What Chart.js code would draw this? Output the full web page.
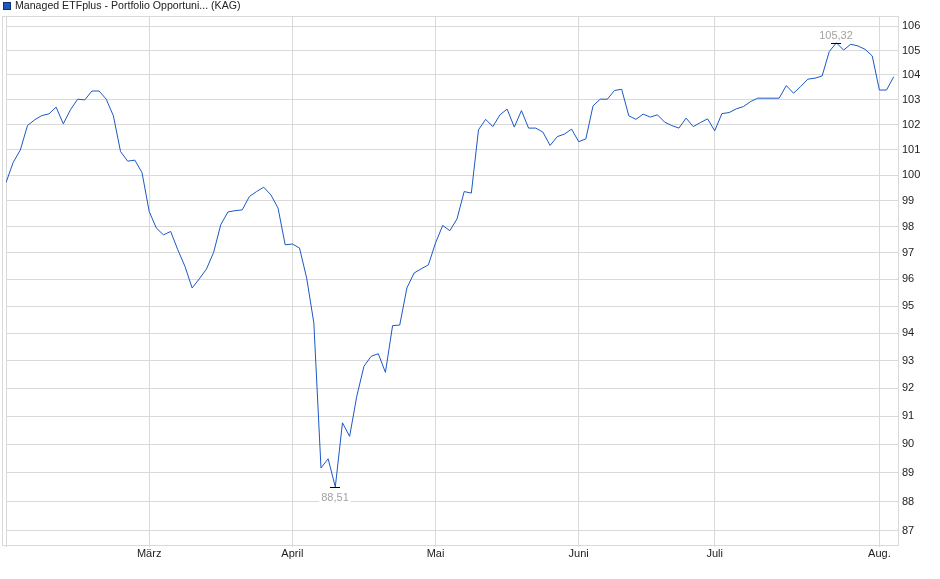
<!DOCTYPE html>
<html>
<head>
<meta charset="utf-8">
<script src="https://cdn.jsdelivr.net/npm/chart.js@4.4.1/dist/chart.umd.min.js"></script>
<style>
    html, body { margin: 0; padding: 0; background: #fff; }
    canvas { display: block; }
</style>
</head>
<body>
<canvas id="fundChart" width="940" height="579"></canvas>
<script>
// Fund name shown in the legend
const seriesName = 'Managed ETFplus - Portfolio Opportuni... (KAG)';

// Trading days (NAV dates)
const dates = [
    '2025-02-03', '2025-02-04', '2025-02-05', '2025-02-06', '2025-02-07',
    '2025-02-10', '2025-02-11', '2025-02-12', '2025-02-13', '2025-02-14',
    '2025-02-17', '2025-02-18', '2025-02-19', '2025-02-20', '2025-02-21',
    '2025-02-24', '2025-02-25', '2025-02-26', '2025-02-27', '2025-02-28',
    '2025-03-03', '2025-03-04', '2025-03-05', '2025-03-06', '2025-03-07',
    '2025-03-10', '2025-03-11', '2025-03-12', '2025-03-13', '2025-03-14',
    '2025-03-17', '2025-03-18', '2025-03-19', '2025-03-20', '2025-03-21',
    '2025-03-24', '2025-03-25', '2025-03-26', '2025-03-27', '2025-03-28',
    '2025-04-01', '2025-04-02', '2025-04-03', '2025-04-04', '2025-04-07',
    '2025-04-08', '2025-04-09', '2025-04-10', '2025-04-11', '2025-04-14',
    '2025-04-15', '2025-04-16', '2025-04-17', '2025-04-22', '2025-04-23',
    '2025-04-24', '2025-04-25', '2025-04-28', '2025-04-29', '2025-04-30',
    '2025-05-02', '2025-05-05', '2025-05-06', '2025-05-07', '2025-05-08',
    '2025-05-09', '2025-05-12', '2025-05-13', '2025-05-14', '2025-05-15',
    '2025-05-16', '2025-05-19', '2025-05-20', '2025-05-21', '2025-05-22',
    '2025-05-23', '2025-05-26', '2025-05-27', '2025-05-28', '2025-05-30',
    '2025-06-02', '2025-06-03', '2025-06-04', '2025-06-05', '2025-06-06',
    '2025-06-10', '2025-06-11', '2025-06-12', '2025-06-13', '2025-06-16',
    '2025-06-17', '2025-06-18', '2025-06-20', '2025-06-23', '2025-06-24',
    '2025-06-25', '2025-06-26', '2025-06-27', '2025-06-30',
    '2025-07-01', '2025-07-02', '2025-07-03', '2025-07-04', '2025-07-07',
    '2025-07-08', '2025-07-09', '2025-07-10', '2025-07-11', '2025-07-14',
    '2025-07-15', '2025-07-16', '2025-07-17', '2025-07-18', '2025-07-21',
    '2025-07-22', '2025-07-23', '2025-07-24', '2025-07-25', '2025-07-28',
    '2025-07-29', '2025-07-30', '2025-07-31',
    '2025-08-01', '2025-08-04', '2025-08-05'
];

// Fund price per trading day
const prices = [
    99.71, 100.50, 100.99, 101.96, 102.19, 102.36, 102.43, 102.70, 102.03, 102.59,
    103.02, 102.99, 103.35, 103.35, 103.02, 102.35, 100.93, 100.55, 100.59, 100.10,
    98.59, 97.95, 97.69, 97.82, 97.12, 96.49, 95.68, 96.02, 96.39, 97.02,
    98.08, 98.57, 98.62, 98.65, 99.17, 99.36, 99.53, 99.23, 98.72, 97.31,
    97.34, 97.19, 96.05, 94.38, 89.17, 89.49, 88.51, 90.76, 90.28, 91.71,
    92.79, 93.15, 93.25, 92.57, 94.28, 94.30, 95.68, 96.24, 96.40, 96.55,
    97.38, 98.05, 97.85, 98.30, 99.36, 99.30, 101.79, 102.21, 101.92, 102.39,
    102.62, 101.90, 102.56, 101.86, 101.86, 101.70, 101.17, 101.52, 101.62, 101.82,
    101.32, 101.43, 102.75, 103.02, 103.02, 103.37, 103.42, 102.35, 102.21, 102.42,
    102.30, 102.39, 102.10, 101.96, 101.86, 102.26, 101.92, 102.08, 102.23,
    101.75, 102.44, 102.48, 102.63, 102.72, 102.92, 103.06, 103.06, 103.06, 103.06,
    103.57, 103.26, 103.53, 103.83, 103.87, 103.96, 104.96, 105.32, 105.02, 105.26,
    105.19, 105.05, 104.78,
    103.39, 103.39, 103.93
];

// Axis labels
const monthNames = ['Jan.', 'Feb.', 'März', 'April', 'Mai', 'Juni', 'Juli', 'Aug.', 'Sep.', 'Okt.', 'Nov.', 'Dez.'];
const yTicks = [87, 88, 89, 90, 91, 92, 93, 94, 95, 96, 97, 98, 99, 100, 101, 102, 103, 104, 105, 106];

const LINE_COLOR = '#1c58c4';
const GRID_COLOR = '#d9d9d9';
const TEXT_COLOR = '#222222';
const FONT = "11px 'Liberation Sans', Arial, sans-serif";
const LEGEND_FONT = "10.6px 'Liberation Sans', Arial, sans-serif";

// index of first trading day of each month -> month label
const monthStarts = {};
dates.forEach(function (d, i) {
    if (i > 0 && d.slice(5, 7) !== dates[i - 1].slice(5, 7)) {
        monthStarts[i] = monthNames[parseInt(d.slice(5, 7), 10) - 1];
    }
});

// outer frame + legend
const framePlugin = {
    id: 'frame',
    afterDraw: function (chart) {
        const c = chart.ctx;
        const a = chart.chartArea;
        c.save();
        c.strokeStyle = GRID_COLOR;
        c.lineWidth = 1;
        c.strokeRect(2.5, Math.round(a.top) + 0.5, Math.round(a.right) - 2, Math.round(a.bottom - a.top));

        // legend
        c.fillStyle = LINE_COLOR;
        c.fillRect(3, 2, 8, 8);
        c.strokeStyle = '#0b2f72';
        c.strokeRect(3.5, 2.5, 7, 7);
        c.fillStyle = TEXT_COLOR;
        c.font = LEGEND_FONT;
        c.textBaseline = 'middle';
        c.textAlign = 'left';
        c.fillText(seriesName, 15, 6.5);
        c.restore();
    }
};

// min / max markers
const extremaPlugin = {
    id: 'extrema',
    afterDatasetsDraw: function (chart) {
        const c = chart.ctx;
        const xs = chart.scales.x;
        const ys = chart.scales.y;
        let iMin = 0, iMax = 0;
        prices.forEach(function (v, i) {
            if (v < prices[iMin]) iMin = i;
            if (v > prices[iMax]) iMax = i;
        });
        c.save();
        c.font = FONT;
        c.textAlign = 'center';
        c.textBaseline = 'middle';
        [[iMin, 10], [iMax, -8]].forEach(function (m) {
            const px = Math.round(xs.getPixelForValue(m[0]));
            const py = Math.round(ys.getPixelForValue(prices[m[0]])) + 0.5;
            c.strokeStyle = '#000';
            c.lineWidth = 1;
            c.beginPath();
            c.moveTo(px - 5, py);
            c.lineTo(px + 5, py);
            c.stroke();
            const txt = prices[m[0]].toFixed(2).replace('.', ',');
            const w = c.measureText(txt).width;
            c.fillStyle = '#fff';
            c.fillRect(px - w / 2 - 2, py + m[1] - 6, w + 4, 12);
            c.fillStyle = '#a3a3a3';
            c.fillText(txt, px, py + m[1]);
        });
        c.restore();
    }
};

const ctx = document.getElementById('fundChart');

new Chart(ctx, {
    type: 'line',
    data: {
        datasets: [{
            label: seriesName,
            data: prices.map(function (v, i) { return { x: i, y: v }; }),
            borderColor: LINE_COLOR,
            borderWidth: 1,
            pointRadius: 0,
            tension: 0,
            fill: false
        }]
    },
    options: {
        responsive: false,
        animation: false,
        devicePixelRatio: 1,
        layout: { padding: { left: 6, top: 16, right: 0, bottom: 0 } },
        plugins: {
            legend: { display: false },
            tooltip: { enabled: false }
        },
        scales: {
            x: {
                type: 'linear',
                min: 0,
                max: prices.length - 1 + 0.6,
                afterBuildTicks: function (scale) {
                    scale.ticks = [{ value: 0 }].concat(Object.keys(monthStarts).map(function (k) {
                        return { value: Number(k) };
                    }));
                },
                afterFit: function (scale) { scale.height = 34; },
                grid: { color: GRID_COLOR, lineWidth: 1, drawTicks: true, tickLength: 2 },
                border: { display: false },
                ticks: {
                    autoSkip: false,
                    maxRotation: 0,
                    padding: 0,
                    color: TEXT_COLOR,
                    font: { family: "'Liberation Sans', Arial, sans-serif", size: 11 },
                    callback: function (v) { return monthStarts[v] || ''; }
                }
            },
            y: {
                type: 'logarithmic',
                position: 'right',
                min: 86.52,
                max: 106.43,
                afterBuildTicks: function (scale) {
                    scale.ticks = yTicks.map(function (v) { return { value: v }; });
                },
                afterFit: function (scale) { scale.width = 42; },
                grid: { color: GRID_COLOR, lineWidth: 1, drawTicks: false },
                border: { display: false },
                ticks: {
                    padding: 4,
                    color: TEXT_COLOR,
                    font: { family: "'Liberation Sans', Arial, sans-serif", size: 11 },
                    callback: function (v) { return String(v); }
                }
            }
        }
    },
    plugins: [framePlugin, extremaPlugin]
});
</script>
</body>
</html>
